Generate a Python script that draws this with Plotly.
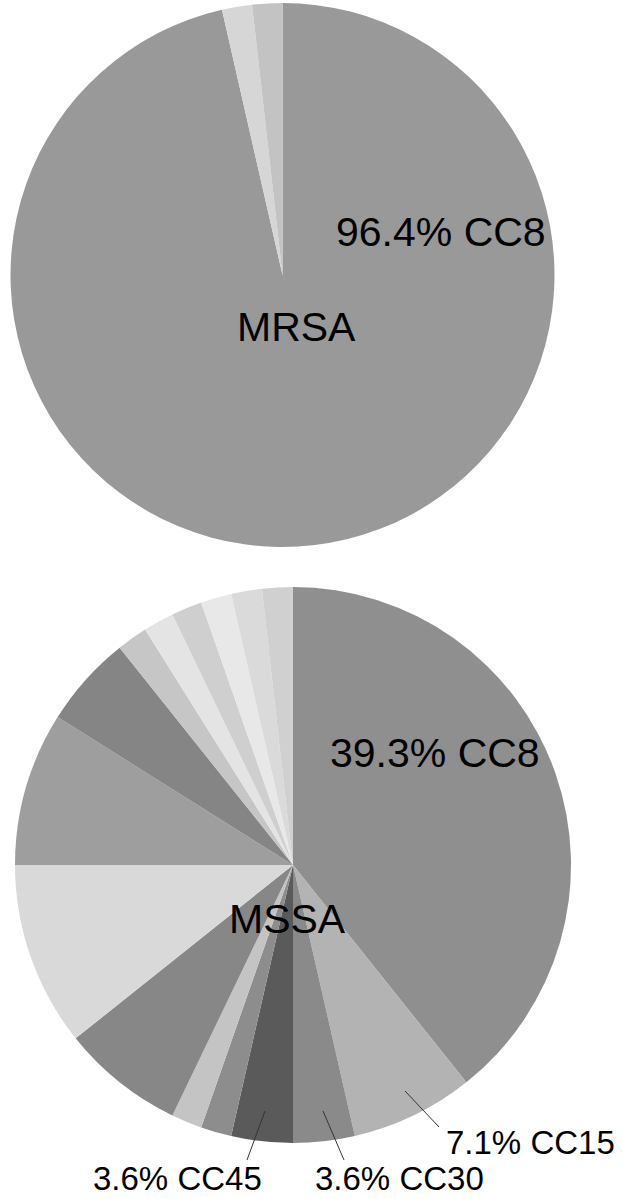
import plotly.graph_objects as go

# slice counts (out of 56 isolates per group), clockwise from 12 o'clock
mrsa_labels = ["CC8", "Other A", "Other B"]
mrsa_counts = [54, 1, 1]
mrsa_colors = ["#999999", "#d6d6d6", "#c3c3c3"]

mssa_labels = ["CC8", "CC15", "CC30", "CC45", "Other 1", "Other 2", "Other 3",
               "Other 4", "Other 5", "Other 6", "Other 7", "Other 8",
               "Other 9", "Other 10", "Other 11", "Other 12"]
mssa_counts = [22, 4, 2, 2, 1, 1, 4, 6, 5, 3, 1, 1, 1, 1, 1, 1]
mssa_colors = ["#8f8f8f", "#b3b3b3", "#8a8a8a", "#5a5a5a", "#8d8d8d", "#c4c4c4",
               "#878787", "#d9d9d9", "#9e9e9e", "#858585", "#c6c6c6", "#e4e4e4",
               "#cfcfcf", "#e8e8e8", "#dadada", "#d0d0d0"]

W, H = 623, 1199


def px(x, y):
    """pixel position -> paper coords"""
    return x / W, 1 - y / H


fig = go.Figure()
fig.add_trace(go.Pie(
    labels=mrsa_labels, values=mrsa_counts, sort=False, direction="clockwise",
    rotation=0, textinfo="none", hoverinfo="label+percent",
    marker=dict(colors=mrsa_colors, line=dict(width=0)),
    domain=dict(x=[10.5 / W, 554.5 / W], y=[1 - 547 / H, 1 - 3 / H]),
    showlegend=False,
))
fig.add_trace(go.Pie(
    labels=mssa_labels, values=mssa_counts, sort=False, direction="clockwise",
    rotation=0, textinfo="none", hoverinfo="label+percent",
    marker=dict(colors=mssa_colors, line=dict(width=0)),
    domain=dict(x=[15 / W, 571 / W], y=[1 - 1143 / H, 1 - 587 / H]),
    showlegend=False,
))

big = dict(family="Liberation Sans, Arial, sans-serif", size=41, color="black")
small = dict(family="Liberation Sans, Arial, sans-serif", size=33, color="black")

texts = [
    ("96.4% CC8", 441, 232, big),
    ("MRSA", 296, 327, big),
    ("39.3% CC8", 435, 753, big),
    ("MSSA", 287, 919, big),
    ("7.1% CC15", 530, 1142, small),
    ("3.6% CC45", 177, 1178, small),
    ("3.6% CC30", 399, 1178, small),
]
for t, x, y, f in texts:
    xx, yy = px(x, y)
    fig.add_annotation(text=t, x=xx, y=yy, xref="paper", yref="paper",
                       xanchor="center", yanchor="middle", showarrow=False,
                       font=f, borderpad=0)

# leader lines for the outside labels
leaders = [((405, 1091), (439, 1127)), ((323, 1111), (344, 1160)), ((265, 1111), (247, 1160))]
for (x0, y0), (x1, y1) in leaders:
    a, b = px(x0, y0)
    c, d = px(x1, y1)
    fig.add_shape(type="line", x0=a, y0=b, x1=c, y1=d, xref="paper", yref="paper",
                  line=dict(color="#333333", width=1))

fig.update_layout(
    width=W, height=H,
    margin=dict(l=0, r=0, t=0, b=0),
    paper_bgcolor="white", plot_bgcolor="white",
)
fig.write_html("out.html", config={"displayModeBar": False},
               post_script="document.body.style.margin='0';document.body.style.overflow='hidden';")
